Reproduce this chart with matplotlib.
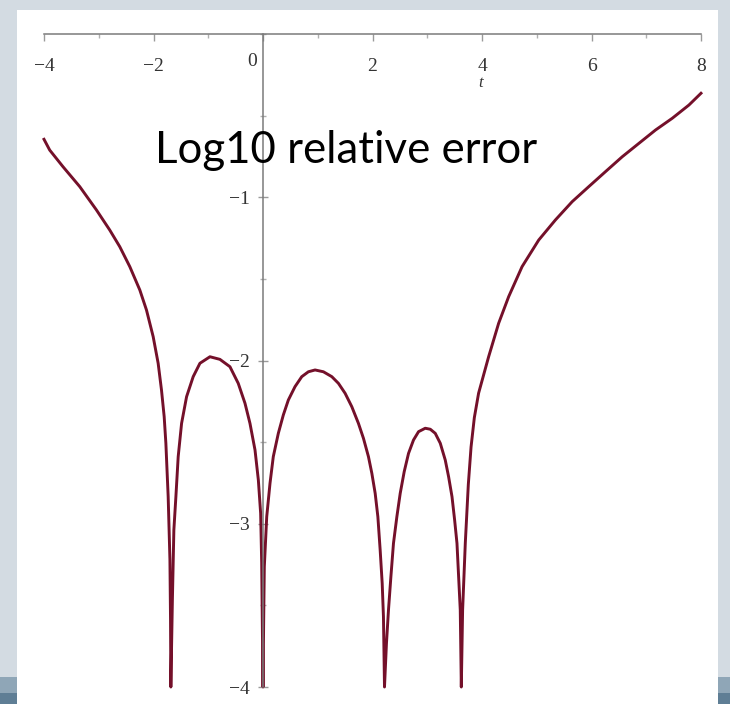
import matplotlib
matplotlib.use('Agg')
import matplotlib.pyplot as plt
from matplotlib.patches import Rectangle
from matplotlib.ticker import MultipleLocator

# log10 relative error of the approximation, sampled along t
# (the dips to -4 are where the error vanishes and the plot is cut off)
t = [-4.0, -3.896, -3.653, -3.347, -3.042, -2.799, -2.616, -2.433, -2.250, -2.128,
     -2.006, -1.915, -1.854, -1.805, -1.774, -1.732, -1.700, -1.689, -1.683,
     -1.655, -1.628, -1.591, -1.549, -1.487, -1.396, -1.275, -1.152, -0.969, -0.787,
     -0.604, -0.452, -0.329, -0.238, -0.146, -0.085, -0.043, -0.024, -0.013, 0.0,
     0.012, 0.024, 0.068, 0.128, 0.188, 0.280, 0.371, 0.463, 0.585, 0.708, 0.829,
     0.951, 1.103, 1.257, 1.378, 1.500, 1.622, 1.743, 1.835, 1.926, 1.988, 2.049,
     2.098, 2.140, 2.177, 2.200, 2.219,
     2.255, 2.292, 2.336, 2.383, 2.445, 2.506, 2.579, 2.658, 2.749, 2.841, 2.963,
     3.055, 3.146, 3.238, 3.329, 3.390, 3.452, 3.500, 3.543, 3.573, 3.603, 3.622,
     3.646, 3.695, 3.750, 3.800, 3.860, 3.938, 4.121, 4.304, 4.487, 4.732, 5.036, 5.341,
     5.647, 5.950, 6.256, 6.561, 6.865, 7.170, 7.476, 7.780, 8.0]
err = [-0.645, -0.711, -0.813, -0.935, -1.078, -1.201, -1.303, -1.425, -1.568, -1.691,
       -1.854, -2.017, -2.181, -2.344, -2.507, -2.834, -3.220, -3.590, -4.0,
       -3.467, -3.038, -2.834, -2.589, -2.385, -2.222, -2.099, -2.017, -1.977, -1.993,
       -2.038, -2.140, -2.262, -2.385, -2.548, -2.732, -2.936, -3.240, -3.590, -4.0,
       -3.600, -3.263, -2.957, -2.752, -2.589, -2.446, -2.334, -2.242, -2.160, -2.099, -2.069,
       -2.058, -2.069, -2.099, -2.140, -2.201, -2.283, -2.385, -2.477, -2.589, -2.691, -2.814,
       -2.957, -3.161, -3.365, -3.569, -4.0,
       -3.732, -3.528, -3.324, -3.120, -2.957, -2.814, -2.681, -2.569, -2.487, -2.436, -2.415,
       -2.421, -2.446, -2.507, -2.610, -2.712, -2.834, -2.977, -3.120, -3.324, -3.528, -4.0,
       -3.528, -3.118, -2.760, -2.530, -2.350, -2.200, -1.977, -1.772, -1.609, -1.425, -1.262,
       -1.139, -1.027, -0.935, -0.843, -0.752, -0.670, -0.588, -0.516, -0.435, -0.363]

xticks = [-4, -2, 0, 2, 4, 6, 8]
yticks = [-1, -2, -3, -4]

W, H = 730, 704
fig = plt.figure(figsize=(W / 100, H / 100), dpi=100)
fig.patch.set_facecolor('#d3dbe2')

# slide background: footer bands and the white panel, kept behind the axes
fig.add_artist(Rectangle((0, 0), 1, 11 / H, transform=fig.transFigure,
                         facecolor='#5f7e95', edgecolor='none', zorder=-10))
fig.add_artist(Rectangle((0, 11 / H), 1, 16 / H, transform=fig.transFigure,
                         facecolor='#8fa6b7', edgecolor='none', zorder=-10))
fig.add_artist(Rectangle((17 / W, 0), 701 / W, 694 / H, transform=fig.transFigure,
                         facecolor='white', edgecolor='none', zorder=-9))

ax = fig.add_axes([44 / W, 17 / H, 657 / W, 653 / H])
ax.set_facecolor('none')
ax.set_xlim(-4, 8)
ax.set_ylim(-4, 0)

ax.plot(t, err, color='#74102a', lw=2.1, solid_joinstyle='round', clip_on=False)

# maple style axes crossing at the origin
for s in ['top', 'right']:
    ax.spines[s].set_visible(False)
ax.spines['bottom'].set_position(('data', 0))
ax.spines['left'].set_position(('data', 0))
for s in ['bottom', 'left']:
    ax.spines[s].set_color('#7a7a7a')
    ax.spines[s].set_linewidth(1.1)

tick_font = dict(family='Liberation Serif', size=14, color='#333333')
ax.set_xticks(xticks)
ax.set_xticklabels(['\u22124', '\u22122', '', '2', '4', '6', '8'], **tick_font)
ax.set_yticks(yticks)
ax.set_yticklabels(['\u22121', '\u22122', '\u22123', '\u22124'], **tick_font)
ax.xaxis.set_minor_locator(MultipleLocator(1))
ax.yaxis.set_minor_locator(MultipleLocator(0.5))
ax.tick_params(axis='x', which='major', direction='out', length=5, width=1,
               color='#9a9a9a', pad=12)
ax.tick_params(axis='x', which='minor', direction='out', length=3, width=1,
               color='#b0b0b0')
ax.tick_params(axis='y', which='major', direction='inout', length=7, width=1,
               color='#9a9a9a', pad=6)
ax.tick_params(axis='y', which='minor', direction='inout', length=4, width=1,
               color='#b0b0b0')

# zero label sits to the left of the vertical axis
fig.text(252 / W, 1 - 62 / H, '0', ha='center', va='center', **tick_font)
fig.text(481 / W, 1 - 83 / H, 't', ha='center', va='center', style='italic',
         family='Liberation Serif', size=12, color='#333333')

fig.text(155 / W, 1 - 163 / H, 'Log10 relative error', ha='left', va='baseline',
         family='Lato', size=31.5, color='black')

fig.savefig('out.png', dpi=100, facecolor=fig.get_facecolor())
